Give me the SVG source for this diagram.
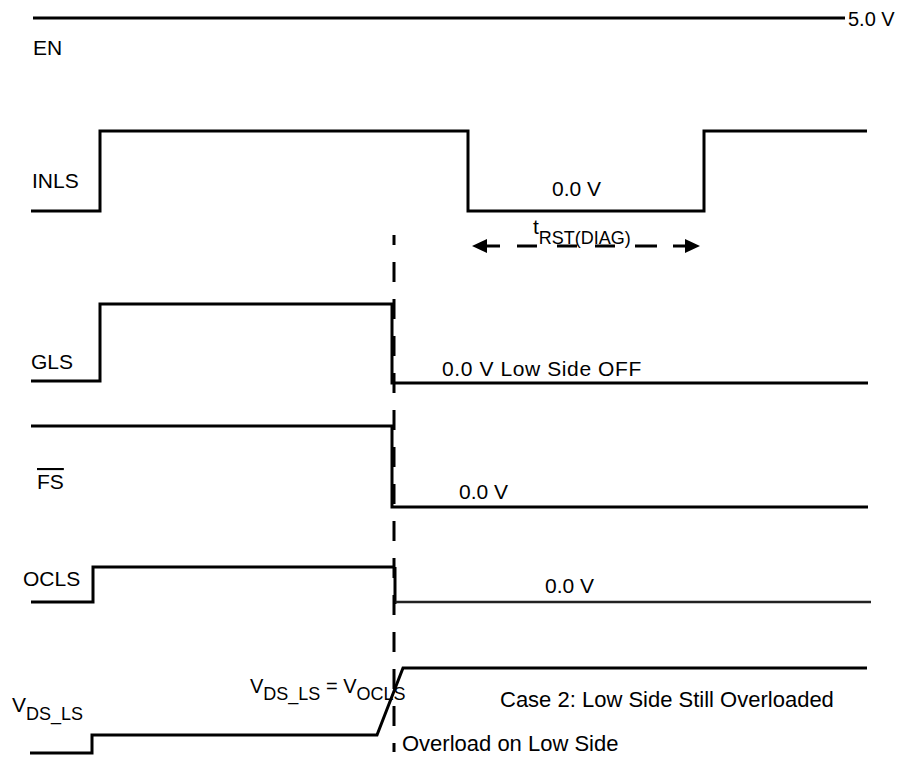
<svg xmlns="http://www.w3.org/2000/svg" width="921" height="758" viewBox="0 0 921 758">
<style>
.sig{fill:none;stroke:#000;stroke-width:3;stroke-linejoin:miter;stroke-linecap:butt}
.t{font-family:"Liberation Sans",Arial,sans-serif;font-size:21px;fill:#000}
.b{font-size:22px}
.s{font-size:18px}
.dash{fill:none;stroke:#000;stroke-width:3;stroke-dasharray:20 17}
</style>
<rect width="921" height="758" fill="#fff"/>
<g id="EN">
<path class="sig" d="M33 18H845"/>
<text class="t" x="848" y="26" style="font-size:20px">5.0 V</text>
<text class="t" x="33" y="55">EN</text>
</g>
<g id="INLS">
<path class="sig" d="M31 211H100V131H468V211H704V131H867"/>
<text class="t" x="32" y="188">INLS</text>
<text class="t" x="552" y="196">0.0 V</text>
</g>
<g id="GLS">
<path class="sig" d="M31 381H100V304H392V383H868"/>
<text class="t" x="31" y="369">GLS</text>
<text class="t" x="442" y="376" style="letter-spacing:0.6px">0.0 V Low Side OFF</text>
</g>
<g id="FS">
<path class="sig" d="M31 426H392V507H868"/>
<text class="t" x="37" y="489" text-decoration="overline">FS</text>
<text class="t" x="459" y="499">0.0 V</text>
</g>
<g id="OCLS">
<path class="sig" d="M31 602H93V567H395"/>
<path class="sig" d="M395 567V604"/>
<path d="M395 602H871" fill="none" stroke="#222" stroke-width="2.5"/>
<text class="t" x="23" y="586">OCLS</text>
<text class="t" x="545" y="593">0.0 V</text>
</g>
<g id="VDS_LS">
<path class="sig" d="M30 753H92V735H377L403 668H867"/>
<text class="t" x="12" y="712">V<tspan class="s" dy="8">DS_LS</tspan></text>
<text class="t" x="250" y="693" style="font-size:20px">V<tspan class="s" dy="7">DS_LS</tspan><tspan dy="-7"> = V</tspan><tspan class="s" dy="7">OCLS</tspan></text>
<text class="t b" x="500" y="707">Case 2: Low Side Still Overloaded</text>
<text class="t b" x="402" y="751">Overload on Low Side</text>
</g>
<g id="connectors">
<path class="dash" d="M394 235V752" stroke-dashoffset="10"/>
<path d="M486 246H500M517 246H537M557 246H577M595 246H615M635 246H657M673 246H686" fill="none" stroke="#000" stroke-width="3"/>
<path d="M472 246L487 239V253Z" fill="#000"/>
<path d="M700 246L685 239V253Z" fill="#000"/>
<text class="t" x="533" y="234">t<tspan class="s" dy="10">RST(DIAG)</tspan></text>
</g>
</svg>
